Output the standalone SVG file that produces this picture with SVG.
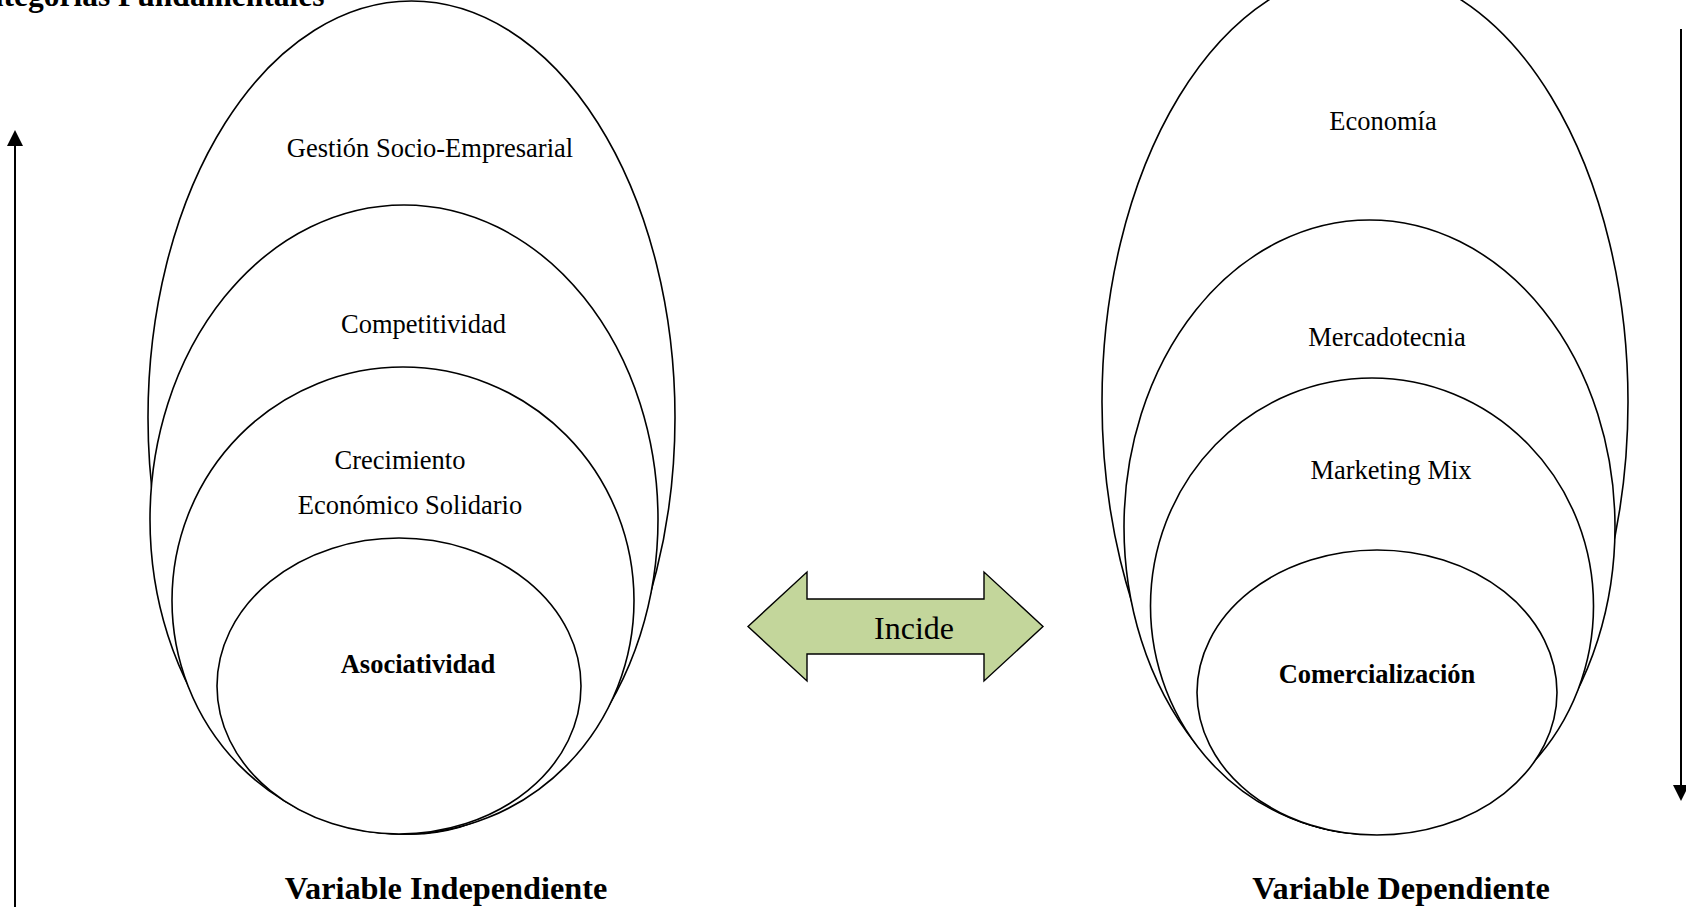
<svg xmlns="http://www.w3.org/2000/svg" width="1686" height="907" viewBox="0 0 1686 907">
  <style>
    .ring { fill: #ffffff; stroke: #000000; stroke-width: 1.6; }
    .lbl { font-family: "Liberation Serif", "Times New Roman", serif; font-size: 26.5px; fill: #000000; text-anchor: middle; }
    .b { font-weight: bold; }
    .big { font-size: 32px; }
    .cap { font-family: "Liberation Serif", "Times New Roman", serif; font-size: 32.3px; font-weight: bold; fill: #000000; text-anchor: middle; }
    .axis { stroke: #000000; stroke-width: 2; fill: none; }
    .tip { fill: #000000; stroke: none; }
  </style>

  <!-- heading, partly off the top edge -->
  <text x="-35" y="6" font-family="Liberation Serif, Times New Roman, serif" font-size="31.5" font-weight="bold" fill="#000">Categorías Fundamentales</text>

  <!-- side axes -->
  <g id="axes">
    <line class="axis" x1="15" y1="907" x2="15" y2="142"/>
    <polygon class="tip" points="15,130 7,146 23,146"/>
    <line class="axis" x1="1681" y1="29" x2="1681" y2="788"/>
    <polygon class="tip" points="1681,801 1673,785 1689,785"/>
  </g>

  <!-- independent variable: nested categories -->
  <g id="gestion-socio-empresarial">
    <ellipse class="ring" cx="411.5" cy="417.5" rx="263.5" ry="416.5"/>
    <text class="lbl" x="430" y="157">Gestión Socio-Empresarial</text>
  </g>
  <g id="competitividad">
    <ellipse class="ring" cx="404" cy="519.5" rx="254" ry="314.5"/>
    <text class="lbl" x="423.5" y="333">Competitividad</text>
  </g>
  <g id="crecimiento">
    <ellipse class="ring" cx="403" cy="600.5" rx="231" ry="233.5"/>
    <text class="lbl" x="400" y="469">Crecimiento</text>
    <text class="lbl" x="410" y="514">Económico Solidario</text>
  </g>
  <g id="asociatividad">
    <ellipse class="ring" cx="399" cy="686" rx="182" ry="148"/>
    <text class="lbl b" x="418" y="673">Asociatividad</text>
  </g>

  <!-- dependent variable: nested categories -->
  <g id="economia">
    <ellipse class="ring" cx="1365" cy="402" rx="263" ry="432"/>
    <text class="lbl" x="1383" y="130">Economía</text>
  </g>
  <g id="mercadotecnia">
    <ellipse class="ring" cx="1369.5" cy="527" rx="245.5" ry="307"/>
    <text class="lbl" x="1387" y="346">Mercadotecnia</text>
  </g>
  <g id="marketing-mix">
    <ellipse class="ring" cx="1372" cy="606" rx="221.5" ry="228"/>
    <text class="lbl" x="1391" y="479">Marketing Mix</text>
  </g>
  <g id="comercializacion">
    <ellipse class="ring" cx="1377" cy="692.5" rx="180" ry="142.5"/>
    <text class="lbl b" x="1377" y="683">Comercialización</text>
  </g>

  <!-- relation between both variables -->
  <g id="connectors">
    <polygon points="748,626.5 807,572 807,599 984,599 984,572 1043,626.5 984,681 984,654 807,654 807,681" fill="#c3d69b" stroke="#000000" stroke-width="1.4" stroke-linejoin="miter"/>
    <text class="lbl big" x="914" y="639">Incide</text>
  </g>

  <!-- captions -->
  <g id="captions">
    <text class="cap" x="446" y="899">Variable Independiente</text>
    <text class="cap" x="1401" y="899">Variable Dependiente</text>
  </g>
</svg>
